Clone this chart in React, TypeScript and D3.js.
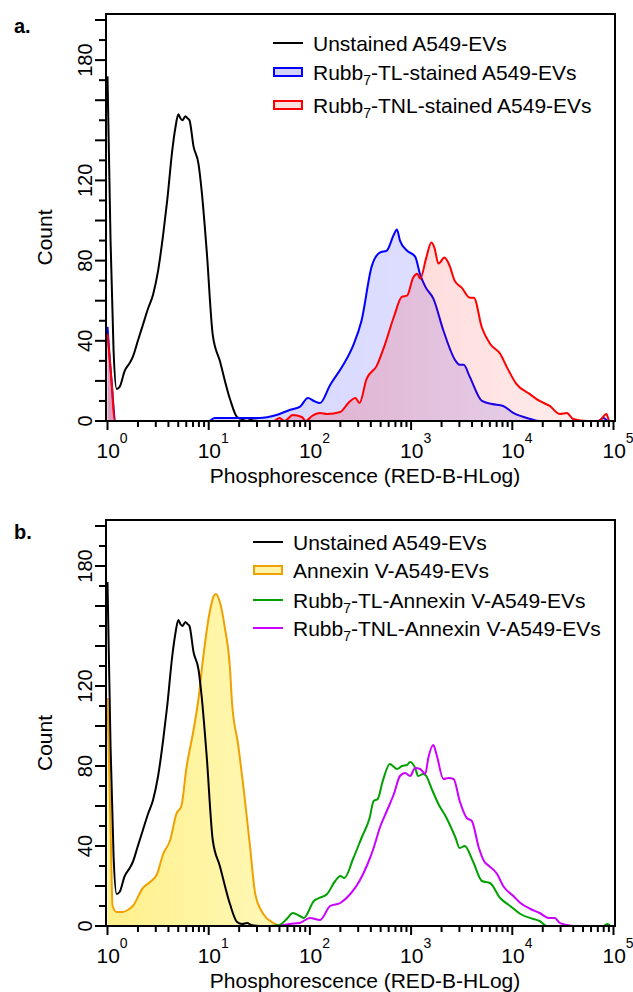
import React from "react";
import * as d3 from "d3";

// ---------- DATA (x as log10 of phosphorescence, y = count) ----------
const unstained: [number, number][] = [
  [0, 172], [0.03, 90], [0.06, 35], [0.09, 16], [0.12, 17], [0.17, 25], [0.22, 29], [0.25, 32],
  [0.3, 40], [0.35, 48], [0.4, 56], [0.45, 63], [0.5, 75], [0.55, 93], [0.59, 110], [0.64, 135],
  [0.67, 146], [0.7, 153], [0.72, 151], [0.74, 150], [0.77, 152], [0.79, 151], [0.81, 150],
  [0.85, 137], [0.9, 128], [0.93, 115], [0.98, 85], [1.04, 43], [1.11, 30], [1.21, 11],
  [1.28, 2], [1.33, 1], [1.38, 1.5], [1.42, 0.5], [1.5, 0], [2.0, 0], [5.0, 0],
];

const tlStained: [number, number][] = [
  [0, 47], [0.04, 20], [0.08, 0], [1.0, 0], [1.06, 1.5], [1.5, 1.5], [1.67, 3], [1.8, 5.5],
  [1.9, 7], [1.98, 11.5], [2.04, 10], [2.1, 9], [2.2, 18], [2.33, 28], [2.43, 38], [2.51, 50],
  [2.61, 77], [2.69, 84], [2.76, 85], [2.83, 93], [2.86, 95.5], [2.89, 90], [2.96, 85],
  [3.04, 82], [3.09, 73], [3.14, 67], [3.22, 61], [3.32, 45], [3.44, 30], [3.48, 28], [3.52, 28],
  [3.58, 22], [3.7, 10], [3.8, 8.5], [3.91, 7.5], [4.01, 4], [4.18, 1], [4.27, 0], [4.85, 0],
  [4.9, 1.5], [4.95, 0], [5, 0],
];

const tnlStained: [number, number][] = [
  [0, 43.5], [0.04, 20], [0.07, 0], [1.64, 0], [1.7, 1.5], [1.75, 0], [1.83, 3], [1.92, 2],
  [1.96, 0], [2.02, 2.5], [2.1, 4], [2.17, 3.5], [2.3, 4.5], [2.38, 9], [2.45, 11.5], [2.49, 9],
  [2.56, 21], [2.66, 27.5], [2.74, 38], [2.83, 52], [2.91, 62], [2.96, 62.5], [3.02, 71.5],
  [3.06, 73.5], [3.09, 71], [3.15, 81.5], [3.2, 89], [3.23, 86.5], [3.27, 78.5], [3.33, 81.5],
  [3.38, 77.5], [3.43, 70], [3.5, 66.5], [3.58, 61.5], [3.62, 61.5], [3.7, 46.5], [3.78, 38.5],
  [3.88, 33.5], [3.95, 26.5], [4.04, 18.5], [4.17, 13.5], [4.27, 10], [4.37, 7.5], [4.47, 3.5],
  [4.54, 4], [4.6, 1], [4.74, 0], [4.85, 0], [4.88, 1], [4.93, 3.5], [4.96, 0], [5, 0],
];

const annexinV: [number, number][] = [
  [0, 114], [0.03, 50], [0.05, 10], [0.09, 7], [0.15, 7], [0.2, 8], [0.25, 10], [0.35, 19],
  [0.42, 22], [0.49, 26], [0.55, 36], [0.62, 43], [0.68, 56], [0.73, 60], [0.78, 79], [0.85, 98],
  [0.9, 114], [0.94, 132], [1.01, 157], [1.05, 165], [1.07, 166], [1.11, 162], [1.16, 149],
  [1.21, 129], [1.23, 112], [1.29, 91], [1.36, 62], [1.41, 39], [1.46, 16], [1.54, 6],
  [1.64, 1.5], [1.7, 0],
];

const tlAnnexin: [number, number][] = [
  [1.6, 0], [1.7, 0.5], [1.78, 4], [1.83, 6.5], [1.9, 5], [1.94, 4], [2.04, 12.5], [2.07, 13.5],
  [2.17, 16], [2.25, 22.5], [2.3, 25], [2.34, 24], [2.43, 34], [2.51, 44], [2.59, 54],
  [2.63, 62.5], [2.67, 63.5], [2.72, 72.5], [2.79, 81], [2.82, 80], [2.86, 78.5], [2.91, 80],
  [2.96, 80.5], [2.99, 82], [3.04, 79], [3.07, 75], [3.12, 76], [3.15, 75], [3.2, 69], [3.27, 61],
  [3.35, 54], [3.44, 44], [3.48, 39], [3.53, 40], [3.61, 32.5], [3.7, 22.5], [3.78, 21.5],
  [3.88, 14], [3.98, 10], [4.08, 6], [4.21, 3.5], [4.27, 2.5], [4.34, 0], [4.9, 0], [4.94, 1],
  [4.97, 0],
];

const tnlAnnexin: [number, number][] = [
  [1.7, 0], [1.8, 1], [1.9, 1.5], [2.0, 4], [2.1, 3], [2.2, 10], [2.3, 11.5], [2.4, 16],
  [2.49, 22.5], [2.57, 31], [2.63, 39], [2.69, 49], [2.76, 57.5], [2.83, 66], [2.89, 75],
  [2.94, 76.5], [2.99, 75], [3.04, 79], [3.09, 78.5], [3.14, 76], [3.17, 84], [3.22, 90.5],
  [3.25, 86], [3.32, 73.5], [3.37, 74], [3.42, 73.5], [3.48, 62.5], [3.55, 54], [3.6, 52.5],
  [3.67, 39], [3.72, 32.5], [3.77, 30], [3.85, 26], [3.91, 20], [4.01, 15], [4.08, 11.5],
  [4.18, 8.5], [4.27, 6.5], [4.36, 4], [4.42, 4], [4.47, 1.5], [4.54, 0.5], [4.6, 0],
];

const yTickValues = d3.range(0, 201, 10);
const yTickLabels = [0, 40, 80, 120, 180];
const xDecades = [0, 1, 2, 3, 4, 5];
const xTitle = "Phosphorescence (RED-B-HLog)";
const yTitle = "Count";

const FONT = "Arial, 'Liberation Sans', Helvetica, sans-serif";

type Series = {
  data: [number, number][];
  stroke: string;
  fill?: string;
  gradId?: string;
};

type LegendItem = { pre: string; sub?: string; post?: string; stroke: string; fill?: string };

const X0 = 106;
const X1 = 615;

function Panel({
  id, top, bottom, label, series, legend, legendX, legendTextX, legendRows,
}: {
  id: string; top: number; bottom: number; label: string; series: Series[];
  legend: LegendItem[]; legendX: number; legendTextX: number; legendRows: number[];
}) {
  const x = d3.scaleLog().domain([1, 1e5]).range([107.5, 613.5]);
  const y = d3.scaleLinear().domain([0, 203]).range([bottom, top]);
  const line = d3.line<[number, number]>()
    .x((d) => x(Math.pow(10, d[0])))
    .y((d) => y(d[1]))
    .curve(d3.curveMonotoneX);
  const area = d3.area<[number, number]>()
    .x((d) => x(Math.pow(10, d[0])))
    .y0(y(0))
    .y1((d) => y(d[1]))
    .curve(d3.curveMonotoneX);

  const minor: number[] = [];
  for (let dec = 0; dec < 5; dec++) for (let m = 2; m <= 9; m++) minor.push(m * Math.pow(10, dec));

  return (
    <g fontFamily={FONT}>
      <defs>
        <clipPath id={`clip-${id}`}>
          <rect x={X0} y={top} width={X1 - X0} height={bottom - top} />
        </clipPath>
      </defs>
      <text x={14} y={top + 19} fontSize={20} fontWeight="bold">{label}</text>

      <g clipPath={`url(#clip-${id})`}>
        {series.map((s, i) => (
          <g key={i}>
            {s.fill && <path d={area(s.data) || ""} fill={s.gradId ? `url(#${s.gradId})` : s.fill} />}
            <path d={line(s.data) || ""} fill="none" stroke={s.stroke} strokeWidth={2} strokeLinejoin="round" />
          </g>
        ))}
      </g>

      {/* frame */}
      <rect x={X0} y={top} width={X1 - X0} height={bottom - top} fill="none" stroke="#000" strokeWidth={2} />

      {/* y ticks */}
      {yTickValues.map((v) => (
        <line key={v} x1={v % 20 === 0 ? 95 : 99} x2={X0} y1={y(v)} y2={y(v)} stroke="#000" strokeWidth={2} />
      ))}
      {yTickLabels.map((v) => (
        <text key={v} transform={`translate(92,${y(v)}) rotate(-90)`} textAnchor="middle" fontSize={20}>{v}</text>
      ))}
      <text transform={`translate(52,${(top + bottom) / 2 + 20}) rotate(-90)`} textAnchor="middle" fontSize={21}>{yTitle}</text>

      {/* x ticks */}
      {xDecades.map((d) => (
        <line key={d} x1={x(Math.pow(10, d))} x2={x(Math.pow(10, d))} y1={bottom} y2={bottom + 9} stroke="#000" strokeWidth={2} />
      ))}
      {minor.map((v) => (
        <line key={v} x1={x(v)} x2={x(v)} y1={bottom} y2={bottom + 6} stroke="#000" strokeWidth={2} />
      ))}
      {xDecades.map((d) => (
        <text key={d} x={x(Math.pow(10, d)) - 11} y={bottom + 37} fontSize={21}>
          10<tspan fontSize={14} dy={-15}>{d}</tspan>
        </text>
      ))}
      <text x={365} y={bottom + 62} textAnchor="middle" fontSize={21}>{xTitle}</text>

      {/* legend */}
      {legend.map((it, i) => {
        const cy = legendRows[i];
        return (
          <g key={i}>
            {it.fill ? (
              <rect x={legendX + 1} y={cy - 4} width={28} height={8} fill={it.fill} stroke={it.stroke} strokeWidth={2} />
            ) : (
              <line x1={legendX} x2={legendX + 30} y1={cy} y2={cy} stroke={it.stroke} strokeWidth={2} />
            )}
            <text x={legendTextX} y={cy + 8} fontSize={21}>
              {it.pre}
              {it.sub && <tspan fontSize={14} dy={5}>{it.sub}</tspan>}
              {it.post && <tspan dy={it.sub ? -5 : 0}>{it.post}</tspan>}
            </text>
          </g>
        );
      })}
    </g>
  );
}

export default function App() {
  const seriesA: Series[] = [
    { data: unstained, stroke: "#000" },
    { data: tlStained, stroke: "#0000ff", fill: "rgba(0,0,255,0.16)", gradId: "gBlue" },
    { data: tnlStained, stroke: "#ff0000", fill: "rgba(255,0,0,0.12)", gradId: "gRed" },
  ];
  const seriesB: Series[] = [
    { data: annexinV, stroke: "#f0a000", fill: "#fff4a0", gradId: "gYellow" },
    { data: unstained, stroke: "#000" },
    { data: tlAnnexin, stroke: "#00a000" },
    { data: tnlAnnexin, stroke: "#cc00ff" },
  ];
  const legendA: LegendItem[] = [
    { pre: "Unstained A549-EVs", stroke: "#000" },
    { pre: "Rubb", sub: "7", post: "-TL-stained A549-EVs", stroke: "#0000ff", fill: "#d4d4fa" },
    { pre: "Rubb", sub: "7", post: "-TNL-stained A549-EVs", stroke: "#ff0000", fill: "#fbe0e0" },
  ];
  const legendB: LegendItem[] = [
    { pre: "Unstained A549-EVs", stroke: "#000" },
    { pre: "Annexin V-A549-EVs", stroke: "#f0a000", fill: "#fff4a8" },
    { pre: "Rubb", sub: "7", post: "-TL-Annexin V-A549-EVs", stroke: "#00a000" },
    { pre: "Rubb", sub: "7", post: "-TNL-Annexin V-A549-EVs", stroke: "#cc00ff" },
  ];
  return (
    <svg width={633} height={992} style={{ position: "absolute", left: 0, top: 0, background: "#fff" }}>
      <defs>
        <linearGradient id="gBlue" x1="0" x2="1" y1="0" y2="0">
          <stop offset="0" stopColor="#0000ff" stopOpacity={0.18} />
          <stop offset="1" stopColor="#0000ff" stopOpacity={0.1} />
        </linearGradient>
        <linearGradient id="gRed" x1="0" x2="1" y1="0" y2="0">
          <stop offset="0" stopColor="#ff0000" stopOpacity={0.26} />
          <stop offset="1" stopColor="#ff0000" stopOpacity={0.06} />
        </linearGradient>
        <linearGradient id="gYellow" x1="0" x2="1" y1="0" y2="0">
          <stop offset="0" stopColor="#fff08a" />
          <stop offset="1" stopColor="#fff8b8" />
        </linearGradient>
      </defs>
      <Panel id="a" top={14} bottom={421} label="a." series={seriesA} legend={legendA}
        legendX={273} legendTextX={313} legendRows={[43, 72, 105]} />
      <Panel id="b" top={520} bottom={926} label="b." series={seriesB} legend={legendB}
        legendX={253} legendTextX={293} legendRows={[542, 570, 600, 628]} />
    </svg>
  );
}
